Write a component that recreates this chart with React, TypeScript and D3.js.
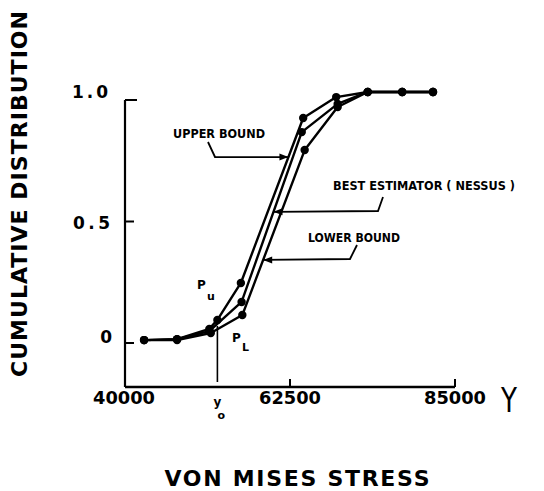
import React from "react";
import * as d3 from "d3";

// ---- data ----
const xTicks = [40000, 62500, 85000];
const xTickLabels = ["40000", "62500", "85000"];
const yTicks = [0, 0.5, 1.0];
const yTickLabels = ["0", "0.5", "1.0"];

const upperX = [42600, 47100, 51500, 52600, 55800, 64300, 68800, 73100, 77800, 82000];
const upperY = [0.012, 0.016, 0.058, 0.095, 0.247, 0.926, 1.012, 1.033, 1.033, 1.033];
const bestX = [42600, 47100, 51500, 55900, 64100, 69000, 73100, 77800, 82000];
const bestY = [0.012, 0.016, 0.049, 0.169, 0.868, 0.984, 1.033, 1.033, 1.033];
const lowerX = [42600, 47100, 51700, 56000, 64500, 69000, 73100, 77800, 82000];
const lowerY = [0.012, 0.012, 0.041, 0.115, 0.794, 0.971, 1.033, 1.033, 1.033];

const y0Value = 52600;

const seriesNames = ["UPPER BOUND", "BEST ESTIMATOR ( NESSUS )", "LOWER BOUND"];
const leaderLevels = [0.765, 0.54, 0.342];

const W = 544;
const H = 491;
const FONT = "'DejaVu Sans', sans-serif";

type Pt = [number, number];

function zip(xs: number[], ys: number[]): Pt[] {
  return xs.map((x, i) => [x, ys[i]] as Pt);
}

// find x on a polyline at a given y value (linear interpolation)
function xAtY(pts: Pt[], yv: number): number {
  for (let i = 0; i < pts.length - 1; i++) {
    const [x1, y1] = pts[i];
    const [x2, y2] = pts[i + 1];
    if ((y1 - yv) * (y2 - yv) <= 0 && y1 !== y2) {
      return x1 + ((yv - y1) / (y2 - y1)) * (x2 - x1);
    }
  }
  return pts[0][0];
}

export default function App() {
  const sx = d3.scaleLinear().domain([40000, 85000]).range([125, 455]);
  const sy = d3.scaleLinear().domain([0, 1]).range([343, 100]);
  const axisBottom = 387;

  const line = d3
    .line<Pt>()
    .x((d) => sx(d[0]))
    .y((d) => sy(d[1]));

  const series = [zip(upperX, upperY), zip(bestX, bestY), zip(lowerX, lowerY)];

  // annotation layout (label pos, leader bend)
  const ann = [
    { tx: 173, ty: 138, tl: 92, start: [208, 142], bend: [215, 157] },
    { tx: 333, ty: 190, tl: 182, start: [383, 197], bend: [378, 211] },
    { tx: 308, ty: 242, tl: 92, start: [357, 245], bend: [350, 259] },
  ];

  const yLab = [
    { x: 112, dy: 0, tl: 10 },
    { x: 110, dy: -7, tl: 37 },
    { x: 108, dy: 2, tl: 36 },
  ];

  return (
    <svg
      width={W}
      height={H}
      style={{ position: "absolute", left: 0, top: 0, background: "#fff" }}
      fontFamily={FONT}
    >
      <rect x={0} y={0} width={W} height={H} fill="#fff" />

      {/* Y axis */}
      <line x1={sx(40000)} y1={sy(1)} x2={sx(40000)} y2={axisBottom} stroke="#000" strokeWidth={2.2} />
      {yTicks.map((t, i) => (
        <g key={"yt" + i}>
          <line
            x1={sx(40000)}
            x2={sx(40000) + (t === 1 ? 12 : 9)}
            y1={sy(t)}
            y2={sy(t)}
            stroke="#000"
            strokeWidth={2}
          />
          <text
            x={yLab[i].x}
            y={sy(t) - yLab[i].dy}
            textAnchor="end"
            fontSize={17}
            fontWeight="bold"
            textLength={yLab[i].tl}
            lengthAdjust="spacing"
          >
            {yTickLabels[i]}
          </text>
        </g>
      ))}

      {/* X axis */}
      <line x1={sx(40000)} y1={axisBottom} x2={sx(85000)} y2={axisBottom} stroke="#000" strokeWidth={2.6} />
      {xTicks.map((t, i) => (
        <g key={"xt" + i}>
          {i > 0 && (
            <line x1={sx(t)} x2={sx(t)} y1={axisBottom} y2={axisBottom - 8} stroke="#000" strokeWidth={2} />
          )}
          <text
            x={sx(t) + (i === 0 ? -1 : 0)}
            y={404}
            textAnchor="middle"
            fontSize={17}
            fontWeight="bold"
            textLength={62}
            lengthAdjust="spacingAndGlyphs"
          >
            {xTickLabels[i]}
          </text>
        </g>
      ))}
      <text x={509} y={412} textAnchor="middle" fontSize={34} textLength={16} lengthAdjust="spacingAndGlyphs">
        Y
      </text>

      {/* y0 marker */}
      <line x1={sx(y0Value)} x2={sx(y0Value)} y1={sy(0.07)} y2={382} stroke="#000" strokeWidth={1.6} />
      <text x={sx(y0Value)} y={406} textAnchor="middle" fontSize={12} fontWeight="bold">
        y
      </text>
      <text x={sx(y0Value) + 4} y={419} textAnchor="middle" fontSize={11} fontWeight="bold">
        o
      </text>

      {/* curves */}
      {series.map((pts, i) => (
        <g key={"s" + i}>
          <path d={line(pts) || ""} fill="none" stroke="#000" strokeWidth={2.4} strokeLinejoin="round" />
          {pts.map((p, j) => (
            <circle key={j} cx={sx(p[0])} cy={sy(p[1])} r={4.2} fill="#000" />
          ))}
        </g>
      ))}

      {/* annotations */}
      {ann.map((a, i) => {
        const yv = leaderLevels[i];
        const tipX = sx(xAtY(series[i], yv));
        const tipY = sy(yv);
        const dir = tipX > a.bend[0] ? 1 : -1;
        return (
          <g key={"a" + i}>
            <text
              x={a.tx}
              y={a.ty}
              fontSize={13}
              fontWeight="bold"
              textLength={a.tl}
              lengthAdjust="spacingAndGlyphs"
            >
              {seriesNames[i]}
            </text>
            <path
              d={`M${a.start[0]},${a.start[1]} L${a.bend[0]},${a.bend[1]} L${tipX},${tipY}`}
              fill="none"
              stroke="#000"
              strokeWidth={1.8}
            />
            <path
              d={`M${tipX},${tipY} L${tipX - dir * 9},${tipY - 3.5} L${tipX - dir * 9},${tipY + 3.5} Z`}
              fill="#000"
            />
          </g>
        );
      })}

      {/* P_u, P_L */}
      <text x={197} y={289} fontSize={12} fontWeight="bold">P</text>
      <text x={207} y={300} fontSize={11} fontWeight="bold">u</text>
      <text x={232} y={342} fontSize={12} fontWeight="bold">P</text>
      <text x={242} y={351} fontSize={11} fontWeight="bold">L</text>

      {/* axis titles */}
      <text
        transform="translate(27,194) rotate(-90)"
        textAnchor="middle"
        fontSize={22}
        fontWeight="bold"
        textLength={366}
        lengthAdjust="spacing"
      >
        CUMULATIVE DISTRIBUTION
      </text>
      <text
        x={297}
        y={486}
        textAnchor="middle"
        fontSize={22}
        fontWeight="bold"
        textLength={265}
        lengthAdjust="spacing"
      >
        VON MISES STRESS
      </text>
    </svg>
  );
}
